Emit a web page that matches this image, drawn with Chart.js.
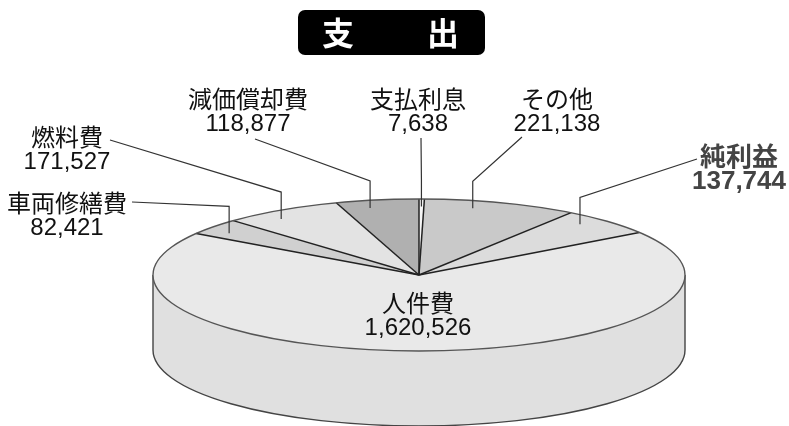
<!DOCTYPE html>
<html>
<head>
<meta charset="utf-8">
<script src="https://cdn.jsdelivr.net/npm/chart.js@4.4.1/dist/chart.umd.min.js"></script>
<style>
html, body { margin: 0; padding: 0; background: #fff; }
canvas { display: block; }
</style>
</head>
<body>
<canvas id="chart_expense" width="789" height="426"></canvas>
<script>
// data (clockwise from 12 o'clock)
var categories = ['支払利息', 'その他', '純利益', '人件費', '車両修繕費', '燃料費', '減価償却費'];
var values = [7638, 221138, 137744, 1620526, 82421, 171527, 118877];
var sliceColors = ['#f5f5f5', '#c9c9c9', '#dcdcdc', '#e9e9e9', '#d0d0d0', '#e3e3e3', '#b0b0b0'];
var sideColors = ['#e6e6e6', '#bcbcbc', '#d0d0d0', '#e0e0e0', '#c4c4c4', '#d6d6d6', '#a2a2a2'];
var chartTitle = ['支', '出'];

// 3d look
var TILT = 76 / 266;
var DEPTH = 75;

// label placement: text centre x, first line y, where the leader line meets the text
var labelLayout = [
    { x: 418, y: 99, end: [421, 138] },
    { x: 557, y: 99, end: [522, 137] },
    { x: 739, y: 156, end: [697, 159], bold: true, color: '#444' },
    { x: 418, y: 303, end: null },
    { x: 67, y: 203, end: [132, 202] },
    { x: 67, y: 137, end: [110, 140] },
    { x: 248, y: 99, end: [255, 139] }
];

function fmt(v) {
    return v.toLocaleString('en-US');
}

var pie3d = {
    id: 'pie3d',
    beforeDatasetsDraw: function (chart) {
        var ctx = chart.ctx;
        var arcs = chart.getDatasetMeta(0).data;
        var cx = arcs[0].x, cy = arcs[0].y, rx = arcs[0].outerRadius, ry = rx * TILT;
        // front wall
        arcs.forEach(function (arc, i) {
            var a = Math.max(arc.startAngle, 0), b = Math.min(arc.endAngle, Math.PI);
            if (b <= a) return;
            ctx.beginPath();
            ctx.ellipse(cx, cy, rx, ry, 0, a, b);
            ctx.ellipse(cx, cy + DEPTH, rx, ry, 0, b, a, true);
            ctx.closePath();
            ctx.fillStyle = sideColors[i];
            ctx.fill();
        });
        ctx.beginPath();
        ctx.moveTo(cx + rx, cy);
        ctx.lineTo(cx + rx, cy + DEPTH);
        ctx.ellipse(cx, cy + DEPTH, rx, ry, 0, 0, Math.PI);
        ctx.lineTo(cx - rx, cy);
        ctx.strokeStyle = '#444';
        ctx.lineWidth = 1.4;
        ctx.stroke();
        // squash the pie into an ellipse
        ctx.save();
        ctx.translate(cx, cy);
        ctx.scale(1, TILT);
        ctx.translate(-cx, -cy);
    },
    afterDatasetsDraw: function (chart) {
        var ctx = chart.ctx;
        ctx.restore();
        var arcs = chart.getDatasetMeta(0).data;
        var cx = arcs[0].x, cy = arcs[0].y, rx = arcs[0].outerRadius, ry = rx * TILT;
        ctx.strokeStyle = '#222';
        ctx.lineWidth = 1.5;
        arcs.forEach(function (arc) {
            ctx.beginPath();
            ctx.moveTo(cx, cy);
            ctx.lineTo(cx + rx * Math.cos(arc.startAngle), cy + ry * Math.sin(arc.startAngle));
            ctx.stroke();
        });
        ctx.beginPath();
        ctx.ellipse(cx, cy, rx, ry, 0, 0, 2 * Math.PI);
        ctx.strokeStyle = '#555';
        ctx.lineWidth = 1.4;
        ctx.stroke();
    },
    afterDraw: function (chart) {
        var ctx = chart.ctx;
        var arcs = chart.getDatasetMeta(0).data;
        var cx = arcs[0].x, cy = arcs[0].y, rx = arcs[0].outerRadius, ry = rx * TILT;

        // title box
        ctx.save();
        ctx.fillStyle = '#000';
        ctx.beginPath();
        ctx.roundRect(298, 10, 187, 45, 7);
        ctx.fill();
        ctx.fillStyle = '#fff';
        ctx.font = 'bold 32px "Noto Sans CJK JP"';
        ctx.textAlign = 'center';
        ctx.textBaseline = 'middle';
        ctx.fillText(chartTitle[0], 338, 33);
        ctx.fillText(chartTitle[1], 443, 33);
        ctx.restore();

        // labels + leader lines
        ctx.save();
        ctx.textAlign = 'center';
        ctx.textBaseline = 'middle';
        arcs.forEach(function (arc, i) {
            var lay = labelLayout[i];
            if (lay.end) {
                var t = i === 0 ? 0.5 : 0.35;
                var ang = arc.startAngle + (arc.endAngle - arc.startAngle) * t;
                var ax = cx + rx * 0.9 * Math.cos(ang);
                var ay = cy + ry * 0.9 * Math.sin(ang);
                ctx.beginPath();
                ctx.moveTo(lay.end[0], lay.end[1]);
                ctx.lineTo(ax, ay - 27);
                ctx.lineTo(ax, ay);
                ctx.strokeStyle = '#333';
                ctx.lineWidth = 1.2;
                ctx.stroke();
            }
            ctx.fillStyle = lay.color || '#111';
            if (lay.bold) {
                ctx.font = 'bold 26px "Noto Sans CJK JP"';
                ctx.fillText(categories[i], lay.x, lay.y);
                ctx.font = 'bold 26px "Liberation Sans", "Noto Sans CJK JP"';
                ctx.fillText(fmt(values[i]), lay.x, lay.y + 26);
            } else {
                ctx.font = '24px "Noto Sans CJK JP"';
                ctx.fillText(categories[i], lay.x, lay.y);
                ctx.font = '24px "Liberation Sans", "Noto Sans CJK JP"';
                ctx.fillText(fmt(values[i]), lay.x, lay.y + 25);
            }
        });
        ctx.restore();
    }
};

var chart_expense = new Chart(document.getElementById('chart_expense'), {
    type: 'pie',
    data: {
        labels: categories,
        datasets: [
            {
                data: values,
                backgroundColor: sliceColors,
                borderWidth: 0
            }
        ]
    },
    options: {
        animation: false,
        responsive: false,
        events: [],
        radius: 266,
        rotation: 0,
        layout: {
            padding: { left: 49, top: 124, right: 0, bottom: 0 }
        },
        plugins: {
            legend: { display: false },
            title: { display: false },
            tooltip: { enabled: false }
        }
    },
    plugins: [pie3d]
});
</script>
</body>
</html>
